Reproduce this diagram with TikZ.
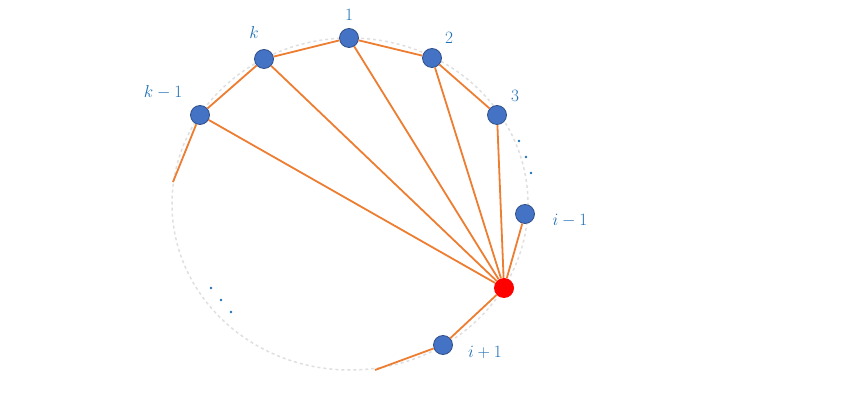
\documentclass[tikz,border=0pt]{standalone}
\usepackage{amsmath}
\definecolor{nodeblue}{HTML}{4472C4}
\definecolor{labelblue}{HTML}{1F6FB4}
\definecolor{edgeorange}{HTML}{ED7D31}
\begin{document}
\begin{tikzpicture}[x=1pt, y=-1pt,
    vert/.style={circle, draw=nodeblue!70!black, fill=nodeblue, minimum size=19pt, inner sep=0pt, line width=0.8pt},
    center/.style={circle, fill=red, minimum size=20pt, inner sep=0pt},
    lbl/.style={text=labelblue, font=\fontsize{18}{21}\selectfont},
    dot/.style={circle, fill=labelblue, minimum size=2.6pt, inner sep=0pt},
    edge/.style={edgeorange, line width=1.8pt}
]
\useasboundingbox (0,0) rectangle (843,411);
\draw[gray!25, dashed, line width=1.5pt] (350,204) ellipse [x radius=178, y radius=166];

\node[vert] (k1) at (200,115) {};
\node[vert] (k) at (264,59) {};
\node[vert] (n1) at (349,38) {};
\node[vert] (n2) at (432,58) {};
\node[vert] (n3) at (497,115) {};
\node[vert] (im1) at (525,214) {};
\node[center] (i) at (504,288) {};
\node[vert] (ip1) at (443,345) {};
\coordinate (stubl) at (173,182);
\coordinate (stubb) at (375,370);

\node[lbl] at (163,92) {$k-1$};
\node[lbl] at (254,33) {$k$};
\node[lbl] at (349,15) {$1$};
\node[lbl] at (449,38) {$2$};
\node[lbl] at (515,96) {$3$};
\node[lbl] at (570,221) {$i-1$};
\node[lbl] at (485,352) {$i+1$};
% ellipsis dots
\foreach \p in {{519,141}, {526,157}, {531,173}, {211,288}, {221,300}, {231,312}}
  \node[dot] at (\p) {};

\draw[edge] (stubl) -- (k1) -- (k) -- (n1) -- (n2) -- (n3) -- (i);
\draw[edge] (im1) -- (i) -- (ip1) -- (stubb);
\foreach \v in {k1, k, n1, n2}
  \draw[edge] (i) -- (\v);
\end{tikzpicture}
\end{document}
